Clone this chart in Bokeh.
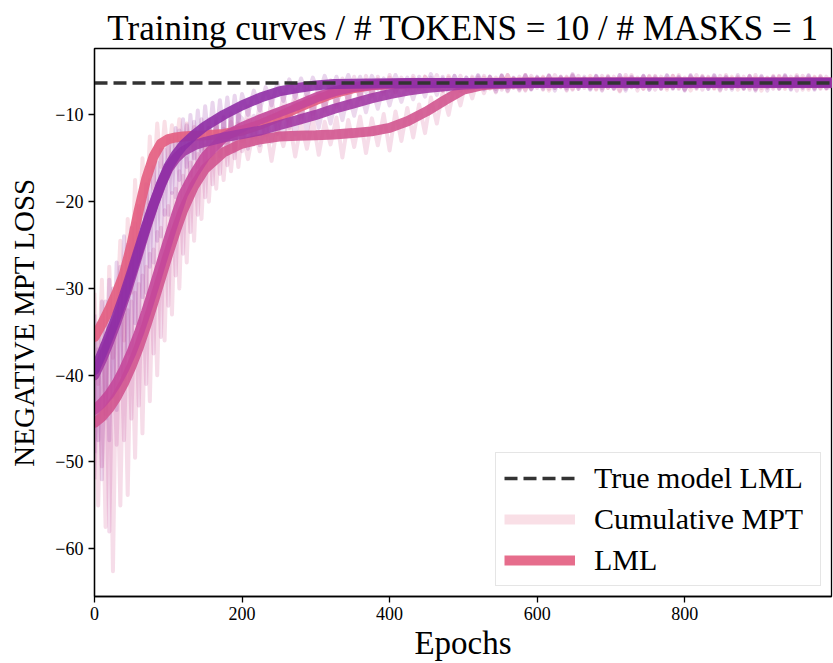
from bokeh.plotting import figure
from bokeh.models import Range1d, FixedTicker, Legend, LegendItem
from bokeh.embed import file_html
from bokeh.resources import INLINE

TITLE = "Training curves / # TOKENS = 10 / # MASKS = 1"
X_LABEL = "Epochs"
Y_LABEL = "NEGATIVE MPT LOSS"
LEGEND_LABELS = ["True model LML", "Cumulative MPT", "LML"]
X_TICKS = [0, 200, 400, 600, 800]
Y_TICKS = [-60, -50, -40, -30, -20, -10]
TRUE_LML = -6.32
EPOCH_MAX = 999

# smooth LML curves (read at these epochs)
lml_epochs = [0, 10, 20, 30, 40, 50, 60, 70, 80, 90, 100, 110, 120, 135, 150, 175, 200,
              225, 250, 275, 300, 325, 350, 375, 400, 425, 450, 475, 500, 525, 550, 600,
              700, 800, 900, 999]
lml_a = [-35.6, -34.1, -32.4, -30.5, -28.3, -25.0, -21.0, -17.4, -14.8, -13.3, -12.8, -12.6,
         -12.5, -12.4, -12.35, -12.2, -11.8, -11.1, -10.2, -9.2, -8.3, -7.5, -6.95, -6.6,
         -6.45, -6.38, -6.35, -6.33, -6.32, -6.32, -6.31, -6.31, -6.3, -6.3, -6.3, -6.3]
lml_b = [-39.4, -37.5, -35.4, -33.2, -30.8, -28.2, -25.5, -22.8, -20.3, -18.0, -16.0, -14.6,
         -13.5, -12.3, -11.3, -10.0, -8.9, -8.0, -7.3, -6.9, -6.6, -6.45, -6.4, -6.37,
         -6.35, -6.34, -6.33, -6.33, -6.32, -6.32, -6.32, -6.31, -6.31, -6.3, -6.3, -6.3]
lml_c = [-40.0, -38.2, -36.1, -33.8, -31.3, -28.6, -25.8, -23.0, -20.4, -18.1, -16.2, -15.0,
         -14.2, -13.5, -13.1, -12.6, -12.2, -11.8, -11.2, -10.6, -10.0, -9.3, -8.7, -8.1,
         -7.6, -7.2, -6.9, -6.7, -6.5, -6.42, -6.37, -6.33, -6.31, -6.3, -6.3, -6.3]
lml_d = [-45.5, -44.8, -43.8, -42.5, -40.9, -39.0, -36.8, -34.3, -31.6, -28.8, -26.0, -23.4,
         -21.0, -18.2, -16.2, -14.3, -13.3, -12.8, -12.5, -12.4, -12.35, -12.25, -12.1, -11.9,
         -11.5, -10.7, -9.6, -8.3, -7.1, -6.6, -6.4, -6.33, -6.31, -6.3, -6.3, -6.3]
lml_e = [-44.0, -43.2, -42.2, -40.9, -39.3, -37.4, -35.2, -32.7, -30.0, -27.2, -24.4, -21.7,
         -19.2, -16.8, -14.8, -12.6, -11.4, -10.5, -9.7, -8.9, -8.0, -7.3, -6.8, -6.55,
         -6.45, -6.4, -6.36, -6.34, -6.33, -6.32, -6.32, -6.31, -6.3, -6.3, -6.3, -6.3]

# noisy cumulative MPT traces: epochs 0-195 every 5, 200-992 every 8, then 999
mpt_epochs = list(range(0, 200, 5)) + list(range(200, 1000, 8)) + [999]
mpt_a = [-30.5, -41.0, -29.0, -44.5, -27.5, -38.0, -33.5, -24.5, -36.0, -22.0,
         -30.5, -17.5, -27.0, -15.0, -22.5, -12.5, -18.5, -11.0, -16.0, -10.8,
         -15.0, -11.2, -14.2, -10.5, -14.0, -11.0, -13.8, -11.4, -13.6, -11.2,
         -14.0, -11.5, -13.5, -11.0, -13.8, -11.6, -13.2, -10.8, -13.0, -11.0,
         -13.0, -10.6, -12.6, -10.2, -12.3, -9.6, -11.9, -9.1, -11.0, -8.4,
         -10.3, -7.9, -9.9, -7.6, -9.2, -7.0, -8.8, -6.6, -8.3, -6.3,
         -7.9, -6.0, -7.5, -5.9, -7.3, -5.7, -7.4, -6.0, -7.1, -5.8,
         -7.0, -5.6, -6.7, -6.0, -7.2, -5.5, -6.9, -5.9, -7.3, -5.8,
         -6.6, -5.7, -7.0, -6.1, -6.9, -5.4, -6.8, -5.9, -7.1, -5.8,
         -6.7, -5.6, -7.2, -6.0, -6.8, -5.7, -7.0, -5.9, -6.6, -5.5,
         -7.1, -5.8, -6.9, -6.1, -7.3, -5.7, -6.8, -5.9, -7.0, -5.6,
         -6.7, -5.9, -7.1, -5.5, -6.9, -6.0, -7.2, -5.8, -6.7, -5.7,
         -7.0, -5.9, -6.8, -5.6, -7.1, -6.0, -6.9, -5.7, -7.2, -5.8,
         -6.8, -5.6, -7.0, -5.9, -6.7, -5.8, -7.1, -5.6, -6.9, -5.9,
         -6.6]
mpt_b = [-33.0, -47.5, -31.5, -45.0, -29.0, -42.5, -27.0, -40.0, -24.0, -37.5,
         -23.0, -34.0, -20.5, -31.0, -18.0, -27.5, -16.0, -24.5, -14.0, -21.5,
         -12.5, -19.0, -11.5, -17.5, -10.5, -16.0, -10.0, -15.0, -9.5, -14.2,
         -9.0, -13.5, -8.6, -12.8, -8.3, -12.2, -8.0, -11.5, -7.8, -11.0,
         -7.6, -10.0, -7.2, -9.5, -6.8, -8.9, -6.3, -8.4, -5.9, -8.0,
         -5.8, -7.8, -5.7, -7.6, -5.5, -7.5, -5.6, -7.3, -5.4, -7.2,
         -5.6, -7.4, -5.5, -7.0, -5.8, -7.2, -5.4, -6.9, -5.7, -7.3,
         -5.6, -7.0, -5.3, -7.1, -5.8, -6.9, -5.5, -7.2, -5.7, -6.8,
         -5.4, -7.0, -5.6, -7.3, -5.5, -6.9, -5.8, -7.1, -5.4, -7.0,
         -5.7, -6.8, -5.5, -7.2, -5.6, -6.9, -5.3, -7.0, -5.8, -7.1,
         -5.5, -6.9, -5.7, -7.0, -5.4, -7.2, -5.6, -6.8, -5.5, -7.1,
         -5.8, -7.0, -5.4, -6.9, -5.6, -7.2, -5.5, -6.8, -5.7, -7.0,
         -5.4, -7.1, -5.6, -6.9, -5.8, -7.0, -5.5, -7.2, -5.6, -6.8,
         -5.7, -7.0, -5.4, -7.1, -5.6, -6.9, -5.5, -7.0, -5.8, -6.9,
         -5.9]
mpt_c = [-49.0, -34.0, -52.0, -31.5, -47.5, -30.0, -44.0, -27.5, -40.5, -25.0,
         -37.5, -22.5, -34.0, -20.0, -30.5, -17.5, -27.0, -15.5, -24.0, -14.0,
         -21.5, -12.5, -19.5, -11.8, -18.0, -11.2, -17.0, -10.8, -16.0, -10.5,
         -15.5, -10.5, -15.0, -10.4, -14.8, -10.3, -14.5, -10.2, -14.2, -10.0,
         -10.4, -13.9, -10.1, -13.5, -9.9, -13.1, -9.5, -12.7, -9.2, -12.3,
         -8.9, -11.9, -8.6, -11.5, -8.2, -11.0, -7.8, -10.6, -7.5, -10.1,
         -7.1, -9.7, -6.8, -9.3, -6.5, -8.9, -6.3, -8.5, -6.1, -8.2,
         -5.9, -7.9, -5.7, -7.7, -5.6, -7.5, -5.5, -7.3, -5.7, -7.2,
         -5.5, -7.1, -5.6, -7.0, -5.4, -7.2, -5.7, -6.9, -5.5, -7.1,
         -5.6, -7.0, -5.4, -6.9, -5.7, -7.1, -5.5, -6.8, -5.6, -7.0,
         -5.5, -7.2, -5.6, -6.9, -5.4, -7.0, -5.7, -6.8, -5.5, -7.1,
         -5.6, -6.9, -5.5, -7.0, -5.7, -7.1, -5.4, -6.9, -5.6, -7.0,
         -5.5, -6.8, -5.7, -7.1, -5.4, -6.9, -5.6, -7.0, -5.5, -7.2,
         -5.6, -6.9, -5.5, -7.0, -5.7, -6.8, -5.4, -7.1, -5.6, -6.9,
         -6.8]
mpt_d = [-38.5, -55.0, -36.5, -57.5, -35.0, -62.6, -34.5, -55.0, -33.0, -53.8,
         -31.5, -49.5, -29.5, -46.7, -27.5, -43.0, -25.5, -40.0, -23.0, -36.0,
         -20.5, -33.0, -18.5, -30.0, -17.0, -27.0, -15.5, -24.5, -14.5, -22.0,
         -13.5, -20.0, -13.0, -18.5, -12.5, -17.5, -12.2, -16.5, -12.0, -16.0,
         -11.9, -15.1, -11.4, -14.2, -10.9, -15.3, -11.2, -13.6, -10.6, -14.8,
         -11.0, -13.9, -10.5, -14.6, -10.8, -13.4, -10.3, -14.9, -10.6, -13.7,
         -10.2, -14.4, -10.4, -13.5, -9.9, -14.1, -9.6, -13.0, -9.2, -12.6,
         -8.8, -12.1, -8.0, -11.0, -7.3, -10.0, -6.5, -8.9, -6.0, -8.1,
         -5.7, -7.5, -5.6, -7.4, -5.5, -7.3, -5.8, -7.2, -5.4, -7.0,
         -5.7, -7.1, -5.5, -6.9, -5.6, -7.2, -5.4, -7.0, -5.8, -6.9,
         -5.6, -7.1, -5.5, -7.0, -5.7, -6.8, -5.4, -7.2, -5.6, -6.9,
         -5.5, -7.0, -5.8, -6.9, -5.4, -7.1, -5.6, -7.0, -5.5, -6.8,
         -5.7, -7.2, -5.4, -6.9, -5.6, -7.0, -5.5, -7.1, -5.8, -6.9,
         -5.5, -7.0, -5.6, -6.8, -5.4, -7.1, -5.7, -6.9, -5.5, -7.0,
         -5.7]
mpt_e = [-52.0, -37.0, -50.5, -36.0, -58.0, -35.5, -48.0, -34.0, -47.5, -32.5,
         -45.0, -30.5, -43.5, -28.5, -41.0, -26.0, -37.5, -23.5, -35.6, -21.0,
         -32.0, -19.0, -28.5, -16.5, -26.0, -15.0, -23.5, -13.5, -21.5, -12.5,
         -19.5, -11.5, -18.0, -10.8, -16.8, -10.2, -15.8, -9.8, -15.0, -9.5,
         -14.2, -9.0, -13.4, -8.6, -12.9, -8.1, -12.2, -7.6, -11.5, -7.1,
         -10.9, -6.7, -10.3, -6.3, -9.6, -6.0, -9.1, -5.8, -8.6, -5.6,
         -8.2, -5.5, -7.9, -5.6, -7.6, -5.4, -7.4, -5.7, -7.2, -5.5,
         -7.1, -5.6, -7.0, -5.4, -7.2, -5.7, -6.9, -5.5, -7.1, -5.6,
         -7.0, -5.5, -6.8, -5.7, -7.1, -5.4, -6.9, -5.6, -7.2, -5.5,
         -6.9, -5.7, -7.0, -5.4, -6.8, -5.6, -7.1, -5.5, -6.9, -5.8,
         -7.0, -5.5, -6.9, -5.6, -7.2, -5.4, -6.8, -5.7, -7.0, -5.5,
         -7.1, -5.6, -6.9, -5.5, -7.0, -5.7, -6.8, -5.4, -7.1, -5.6,
         -6.9, -5.5, -7.0, -5.8, -6.8, -5.6, -7.1, -5.4, -6.9, -5.7,
         -7.0, -5.5, -6.8, -5.6, -7.2, -5.5, -6.9, -5.7, -7.0, -5.6,
         -6.8]

COLORS = {"a": "#e35d80", "b": "#8f2fa5", "c": "#a23aa3", "d": "#d2558f", "e": "#c4479a"}
LML = {"a": lml_a, "b": lml_b, "c": lml_c, "d": lml_d, "e": lml_e}
MPT = {"a": mpt_a, "b": mpt_b, "c": mpt_c, "d": mpt_d, "e": mpt_e}
ORDER = ["a", "d", "e", "c", "b"]

FONT = "Liberation Serif"
NAN = float("nan")

p = figure(width=833, height=663, output_backend="svg", toolbar_location=None,
           x_range=Range1d(0, EPOCH_MAX), y_range=Range1d(-65.5, -2.35),
           min_border_left=94, min_border_right=2, min_border_top=48, min_border_bottom=66)
p.background_fill_color = "white"
p.border_fill_color = "white"
p.grid.visible = False
p.outline_line_color = "black"
p.outline_line_width = 1.3

p.title.text = TITLE
p.title.text_font = FONT
p.title.text_font_size = "35px"
p.title.text_font_style = "normal"
p.title.text_color = "black"
p.title.align = "center"
p.title.standoff = 2

for ax in (p.xaxis[0], p.yaxis[0]):
    ax.axis_line_color = "black"
    ax.axis_line_width = 1.3
    ax.major_tick_line_color = "black"
    ax.major_tick_line_width = 1.3
    ax.major_tick_out = 6
    ax.major_tick_in = 0
    ax.minor_tick_line_color = None
    ax.major_label_text_font = FONT
    ax.major_label_text_font_size = "18px"
    ax.major_label_text_color = "black"
    ax.axis_label_text_font = FONT
    ax.axis_label_text_font_style = "normal"
    ax.axis_label_text_color = "black"

p.xaxis[0].ticker = FixedTicker(ticks=X_TICKS)
p.yaxis[0].ticker = FixedTicker(ticks=Y_TICKS)
p.yaxis[0].major_label_overrides = {t: "\u2212" + str(abs(t)) for t in Y_TICKS}
p.xaxis[0].axis_label = X_LABEL
p.xaxis[0].axis_label_text_font_size = "33px"
p.xaxis[0].major_label_standoff = 4
p.xaxis[0].axis_label_standoff = 2
p.yaxis[0].axis_label = Y_LABEL
p.yaxis[0].axis_label_text_font_size = "29px"
p.yaxis[0].major_label_standoff = 5
p.yaxis[0].axis_label_standoff = 12

for k in ORDER:
    n = min(len(mpt_epochs), len(MPT[k]))
    p.line(mpt_epochs[:n], MPT[k][:n], line_color=COLORS[k], line_alpha=0.2, line_width=4,
           line_join="round")
for k in ORDER:
    p.line(lml_epochs, LML[k], line_color=COLORS[k], line_alpha=0.9, line_width=10,
           line_join="round", line_cap="round")

DASH = "13 6"
true_line = p.line([0, EPOCH_MAX], [TRUE_LML, TRUE_LML], line_color="#333333",
                   line_width=3.5, line_dash=DASH)

leg_mpt = p.line([NAN], [NAN], line_color=COLORS["a"], line_alpha=0.2, line_width=10)
leg_lml = p.line([NAN], [NAN], line_color=COLORS["a"], line_alpha=0.9, line_width=10)

legend = Legend(items=[LegendItem(label=LEGEND_LABELS[0], renderers=[true_line]),
                       LegendItem(label=LEGEND_LABELS[1], renderers=[leg_mpt]),
                       LegendItem(label=LEGEND_LABELS[2], renderers=[leg_lml])],
                location="bottom_right")
legend.margin = 10
legend.padding = 8
legend.spacing = 7
legend.glyph_width = 71
legend.glyph_height = 34
legend.label_height = 34
legend.label_width = 218
legend.label_standoff = 19
legend.label_text_font = FONT
legend.label_text_font_size = "30px"
legend.label_text_color = "black"
legend.border_line_color = "#cccccc"
legend.border_line_width = 1.5
legend.background_fill_color = "white"
legend.background_fill_alpha = 0.8
p.add_layout(legend)

open("out.html", "w").write(file_html(p, INLINE))
